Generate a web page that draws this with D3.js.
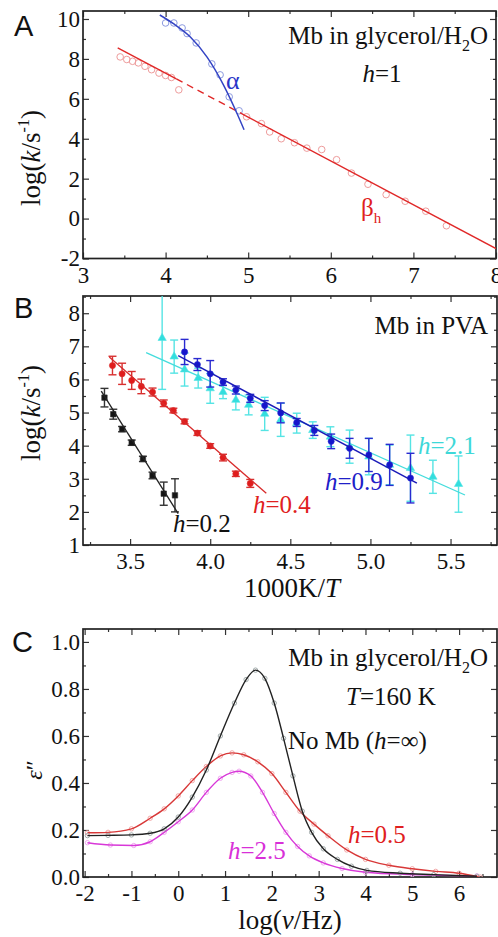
<!DOCTYPE html>
<html>
<head>
<meta charset="utf-8">
<script src="https://cdn.jsdelivr.net/npm/d3@7"></script>
<style>
  body { margin: 0; background: #fff; }
  svg { display: block; }
  text { font-family: "Liberation Serif", "Times New Roman", serif; fill: #111; }
</style>
</head>
<body>
<svg id="fig" width="498" height="937"></svg>
<script>
// ---- panel A : Mb in glycerol/H2O, h=1 ----
var alphaT = [4.0, 4.1, 4.2, 4.26, 4.37, 4.56, 4.66, 4.77, 4.89];
var alphaK = [9.8, 9.8, 9.55, 9.27, 8.8, 7.75, 7.2, 6.1, 5.4];
var alphaFitT = [3.93, 4.1, 4.3, 4.5, 4.7, 4.85, 4.95];
var alphaFitK = [10.2, 9.75, 9.1, 8.1, 6.7, 5.4, 4.45];
var betaT = [3.45, 3.53, 3.6, 3.67, 3.75, 3.83, 3.92, 4.0, 4.07, 4.16, 4.98, 5.16, 5.26, 5.4, 5.56, 5.71, 5.89, 6.07, 6.25, 6.45, 6.67, 6.9, 7.15, 7.4];
var betaK = [8.1, 7.97, 7.88, 7.8, 7.63, 7.46, 7.29, 7.17, 7.07, 6.45, 5.1, 4.76, 4.34, 4.0, 3.8, 3.53, 3.46, 2.95, 2.28, 1.72, 1.2, 0.87, 0.37, -0.36];
var betaFitT = [3.42, 4.13, 4.97, 8.0];
var betaFitK = [8.55, 7.0, 5.15, -1.5];
var ticksA_x = [3, 4, 5, 6, 7, 8];
var ticksA_y = [-2, 0, 2, 4, 6, 8, 10];

// ---- panel B : Mb in PVA ----
var h02T = [3.34, 3.395, 3.45, 3.51, 3.58, 3.64, 3.71, 3.78];
var h02K = [5.45, 4.95, 4.5, 4.09, 3.6, 3.1, 2.55, 2.5];
var h02E = [0.28, 0.15, 0.08, 0.08, 0.08, 0.1, 0.35, 0.5];
var h02FitT = [3.32, 3.8];
var h02FitK = [5.65, 1.95];

var h04T = [3.39, 3.45, 3.51, 3.57, 3.64, 3.71, 3.77, 3.84, 3.92, 4.0, 4.08, 4.16, 4.25];
var h04K = [6.42, 6.17, 5.97, 5.79, 5.62, 5.28, 5.06, 4.73, 4.38, 3.99, 3.64, 3.15, 2.86];
var h04E = [0.28, 0.32, 0.27, 0.22, 0.12, 0.1, 0.07, 0.07, 0.07, 0.07, 0.1, 0.08, 0.12];
var h04FitT = [3.37, 4.35];
var h04FitK = [6.68, 2.56];

var h09T = [3.84, 3.92, 4.0, 4.08, 4.16, 4.25, 4.34, 4.44, 4.54, 4.65, 4.755, 4.87, 4.99, 5.12, 5.25];
var h09K = [6.83, 6.45, 6.17, 5.92, 5.68, 5.43, 5.21, 4.99, 4.7, 4.46, 4.13, 3.92, 3.72, 3.42, 3.02];
var h09E = [0.38, 0.18, 0.4, 0.1, 0.12, 0.12, 0.15, 0.3, 0.12, 0.15, 0.22, 0.3, 0.5, 0.62, 0.75];
var h09FitT = [3.8, 5.29];
var h09FitK = [6.72, 2.87];

var h21T = [3.7, 3.775, 3.84, 3.925, 4.0, 4.08, 4.16, 4.24, 4.34, 4.44, 4.54, 4.64, 4.75, 4.87, 4.99, 5.12, 5.25, 5.39, 5.55];
var h21K = [7.25, 6.69, 6.3, 6.04, 5.73, 5.62, 5.38, 5.23, 4.96, 4.78, 4.68, 4.47, 4.27, 3.97, 3.67, 3.42, 3.32, 3.06, 2.84];
var h21E = [1.55, 0.5, 0.5, 0.3, 0.45, 0.2, 0.3, 0.3, 0.5, 0.5, 0.3, 0.25, 0.3, 0.5, 0.55, 0.6, 1.0, 0.5, 0.85];
var h21FitT = [3.6, 5.59];
var h21FitK = [6.81, 2.51];
var ticksB_x = [3.5, 4.0, 4.5, 5.0, 5.5];
var ticksB_y = [1, 2, 3, 4, 5, 6, 7, 8];

// ---- panel C : dielectric loss at T=160 K ----
var noMbNu = [-1.94, -1.5, -1.0, -0.6, -0.3, 0.0, 0.3, 0.6, 0.9, 1.2, 1.45, 1.65, 1.85, 2.05, 2.25, 2.45, 2.65, 2.85, 3.1, 3.4, 3.7, 4.03, 4.74, 5.46, 6.38];
var noMbEps = [0.176, 0.177, 0.179, 0.186, 0.205, 0.255, 0.34, 0.455, 0.6, 0.74, 0.84, 0.88, 0.845, 0.74, 0.59, 0.43, 0.28, 0.19, 0.12, 0.075, 0.046, 0.028, 0.016, 0.01, 0.003];
var h05Nu = [-1.94, -1.5, -1.0, -0.6, -0.3, 0.0, 0.3, 0.6, 0.9, 1.15, 1.4, 1.7, 2.0, 2.3, 2.6, 2.9, 3.2, 3.6, 4.0, 4.5, 5.0, 5.5, 6.0, 6.45];
var h05Eps = [0.188, 0.19, 0.205, 0.25, 0.29, 0.345, 0.41, 0.47, 0.515, 0.528, 0.52, 0.49, 0.44, 0.36, 0.28, 0.225, 0.175, 0.115, 0.075, 0.05, 0.035, 0.024, 0.016, 0.0];
var h25Nu = [-1.94, -1.45, -0.95, -0.6, -0.3, 0.0, 0.3, 0.6, 0.9, 1.15, 1.3, 1.55, 1.8, 2.05, 2.3, 2.55, 2.8, 3.1, 3.5, 4.0, 5.0, 6.38];
var h25Eps = [0.146, 0.136, 0.134, 0.15, 0.19, 0.235, 0.285, 0.36, 0.42, 0.445, 0.45, 0.43, 0.36, 0.27, 0.19, 0.13, 0.09, 0.06, 0.036, 0.02, 0.01, 0.005];
var ticksC_x = [-2, -1, 0, 1, 2, 3, 4, 5, 6];
var ticksC_y = [0, 0.2, 0.4, 0.6, 0.8, 1.0];

var SERIF = '"Liberation Serif", "Times New Roman", Times, serif';
var svg = d3.select('#fig');
var clipCount = 0;

function zip(a, b) {
  return a.map(function(d, i) { return [d, b[i]]; });
}

function minors(lo, hi, step) {
  return d3.range(Math.round((hi - lo) / step) + 1).map(function(i) { return +(lo + i * step).toFixed(4); });
}

// plain hyphen for negative tick labels, like the original
function fmt(spec) {
  var f = d3.format(spec);
  return function(v) { return f(v).replace('\u2212', '-'); };
}

// frame, inward ticks on all four sides, tick labels left & bottom
function makePanel(box, xDom, yDom, xMajor, xMinor, yMajor, yMinor, xFmt, yFmt) {
  var x = d3.scaleLinear().domain(xDom).range([box.l, box.r]);
  var y = d3.scaleLinear().domain(yDom).range([box.b, box.t]);
  var g = svg.append('g');
  var id = 'clip' + (clipCount++);
  svg.append('clipPath').attr('id', id).append('rect')
    .attr('x', box.l).attr('y', box.t)
    .attr('width', box.r - box.l).attr('height', box.b - box.t);

  function ax(gen, tr, vals, size, f) {
    var a = g.append('g').attr('transform', tr)
      .call(gen.tickValues(vals).tickSize(size).tickPadding(size < -4 ? 8 : 0).tickFormat(f || ''));
    a.attr('font-family', null).attr('font-size', null);
    a.select('.domain').remove();
    a.selectAll('line').attr('stroke', '#333').attr('stroke-width', 1.2);
    a.selectAll('text').style('font-family', SERIF).style('font-size', '23px').attr('fill', '#111');
    return a;
  }
  ax(d3.axisBottom(x), 'translate(0,' + box.b + ')', xMajor, -6, xFmt);
  ax(d3.axisBottom(x), 'translate(0,' + box.b + ')', xMinor, -3);
  ax(d3.axisTop(x), 'translate(0,' + box.t + ')', xMajor, -6);
  ax(d3.axisTop(x), 'translate(0,' + box.t + ')', xMinor, -3);
  var left = ax(d3.axisLeft(y), 'translate(' + box.l + ',0)', yMajor, -6, yFmt);
  left.selectAll('text').attr('x', -3);
  ax(d3.axisLeft(y), 'translate(' + box.l + ',0)', yMinor, -3);
  ax(d3.axisRight(y), 'translate(' + box.r + ',0)', yMajor, -6);
  ax(d3.axisRight(y), 'translate(' + box.r + ',0)', yMinor, -3);

  g.append('rect')
    .attr('x', box.l).attr('y', box.t)
    .attr('width', box.r - box.l).attr('height', box.b - box.t)
    .attr('fill', 'none').attr('stroke', '#222').attr('stroke-width', 1.7);

  var data = svg.append('g').attr('clip-path', 'url(#' + id + ')');
  return { x: x, y: y, g: data };
}

function panelLetter(txt, x, y) {
  svg.append('text').attr('x', x).attr('y', y)
    .style('font-family', '"Liberation Sans", Arial, sans-serif')
    .style('font-size', '29px').text(txt);
}

function addParts(t, parts) {
  parts.forEach(function(p) {
    var s = t.append('tspan').text(p[0]);
    if (p[1]) s.style('font-style', 'italic');
    if (p[2]) s.attr('dy', p[2]);
    if (p[3]) s.style('font-size', p[3] + 'px');
  });
}

function yTitle(x, y, parts, size) {
  var t = svg.append('text')
    .attr('transform', 'translate(' + x + ',' + y + ') rotate(-90)')
    .attr('text-anchor', 'middle')
    .style('font-family', SERIF).style('font-size', size + 'px');
  addParts(t, parts);
  return t;
}

function richText(x, y, parts, size, color, anchor) {
  var t = svg.append('text').attr('x', x).attr('y', y)
    .attr('text-anchor', anchor || 'start')
    .style('font-family', SERIF)
    .style('font-size', size + 'px').style('fill', color || '#111');
  addParts(t, parts);
  return t;
}

var line = d3.line();

// ================= A =================
var A = makePanel({ l: 83, r: 496, t: 11, b: 258.5 }, [3, 8], [-2, 10.4],
  ticksA_x, minors(3.5, 7.5, 1), ticksA_y, minors(-1, 9, 2), fmt('d'), fmt('d'));

A.g.selectAll('circle.beta').data(zip(betaT, betaK)).enter().append('circle')
  .attr('cx', function(d) { return A.x(d[0]); })
  .attr('cy', function(d) { return A.y(d[1]); })
  .attr('r', 3.3).attr('fill', 'none').attr('stroke', '#ee9c9c').attr('stroke-width', 1);
A.g.selectAll('circle.alpha').data(zip(alphaT, alphaK)).enter().append('circle')
  .attr('cx', function(d) { return A.x(d[0]); })
  .attr('cy', function(d) { return A.y(d[1]); })
  .attr('r', 3.3).attr('fill', 'none').attr('stroke', '#8c9ae0').attr('stroke-width', 1);

var betaFit = zip(betaFitT, betaFitK).map(function(d) { return [A.x(d[0]), A.y(d[1])]; });
A.g.append('path').attr('d', line(betaFit.slice(0, 2)))
  .attr('stroke', '#e02828').attr('stroke-width', 1.4).attr('fill', 'none');
A.g.append('path').attr('d', line(betaFit.slice(1, 3)))
  .attr('stroke', '#e02828').attr('stroke-width', 1.4).attr('fill', 'none')
  .attr('stroke-dasharray', '7,5');
A.g.append('path').attr('d', line(betaFit.slice(2, 4)))
  .attr('stroke', '#e02828').attr('stroke-width', 1.4).attr('fill', 'none');

A.g.append('path')
  .attr('d', d3.line().curve(d3.curveMonotoneX)
    .x(function(d) { return A.x(d[0]); }).y(function(d) { return A.y(d[1]); })(zip(alphaFitT, alphaFitK)))
  .attr('stroke', '#3444c4').attr('stroke-width', 1.5).attr('fill', 'none');

panelLetter('A', 14, 36);
yTitle(40, 158, [['log('], ['k', true], ['/s'], ['-1', false, -11, 16], [')', false, 11]], 27);
richText(488, 44, [['Mb in glycerol/H'], ['2', false, 7, 16], ['O', false, -7]], 25, '#111', 'end');
richText(382, 82, [['h', true], ['=1']], 25, '#111', 'middle');
richText(226, 89, [['α']], 26, '#2a36c8');
richText(361, 216, [['β'], ['h', false, 7, 15]], 25, '#e02020');

// ================= B =================
var B = makePanel({ l: 83, r: 497, t: 296, b: 545 }, [3.206, 5.79], [1, 8.52],
  ticksB_x, minors(3.25, 5.75, 0.5), ticksB_y, minors(1.5, 8.5, 1), fmt('.1f'), fmt('d'));

function errSeries(P, T, K, E, color, light, shape) {
  var pts = T.map(function(t, i) { return { t: t, k: K[i], e: E[i] }; });
  var g = P.g.append('g');
  var eb = g.selectAll('g.eb').data(pts).enter().append('g')
    .attr('stroke', light).attr('stroke-width', 1.4);
  eb.append('line')
    .attr('x1', function(d) { return P.x(d.t); }).attr('x2', function(d) { return P.x(d.t); })
    .attr('y1', function(d) { return P.y(d.k - d.e); }).attr('y2', function(d) { return P.y(d.k + d.e); });
  [-1, 1].forEach(function(s) {
    eb.append('line')
      .attr('x1', function(d) { return P.x(d.t) - 4; }).attr('x2', function(d) { return P.x(d.t) + 4; })
      .attr('y1', function(d) { return P.y(d.k + s * d.e); }).attr('y2', function(d) { return P.y(d.k + s * d.e); });
  });
  g.selectAll('path.m').data(pts).enter().append('path')
    .attr('transform', function(d) { return 'translate(' + P.x(d.t) + ',' + P.y(d.k) + ')'; })
    .attr('d', d3.symbol().type(shape).size(30))
    .attr('fill', color).attr('stroke', light).attr('stroke-width', 0.6);
}

function fitLine(P, T, K, color, w) {
  P.g.append('path').attr('d', line(zip(T, K).map(function(d) { return [P.x(d[0]), P.y(d[1])]; })))
    .attr('stroke', color).attr('stroke-width', w || 1.3).attr('fill', 'none');
}

errSeries(B, h21T, h21K, h21E, '#33dede', '#55e4e4', d3.symbolTriangle);
fitLine(B, h21FitT, h21FitK, '#44dcdc', 1.3);
errSeries(B, h09T, h09K, h09E, '#1515cc', '#2a2ad0', d3.symbolCircle);
fitLine(B, h09FitT, h09FitK, '#1a1ab8', 1.4);
errSeries(B, h04T, h04K, h04E, '#e01c1c', '#d83030', d3.symbolCircle);
fitLine(B, h04FitT, h04FitK, '#d82a2a', 1.3);
errSeries(B, h02T, h02K, h02E, '#151515', '#333', d3.symbolSquare);
fitLine(B, h02FitT, h02FitK, '#222', 1.3);

panelLetter('B', 14, 318);
yTitle(40, 413, [['log('], ['k', true], ['/s'], ['-1', false, -11, 16], [')', false, 11]], 27);
richText(292, 597, [['1000K/'], ['T', true]], 27, '#111', 'middle');
richText(488, 334, [['Mb in PVA']], 25, '#111', 'end');
richText(173, 532, [['h', true], ['=0.2']], 25, '#111');
richText(253, 513, [['h', true], ['=0.4']], 25, '#e02020');
richText(325, 490, [['h', true], ['=0.9']], 25, '#2020c8');
richText(418, 454, [['h', true], ['=2.1']], 25, '#3ed8d8');

// ================= C =================
var C = makePanel({ l: 83, r: 497, t: 629, b: 877 }, [-2.035, 6.81], [0, 1.055],
  ticksC_x, minors(-1.5, 6.5, 1), ticksC_y, minors(0.1, 0.9, 0.2), fmt('d'), fmt('.1f'));

function lossSeries(P, N, E, color, light) {
  var pts = zip(N, E);
  P.g.selectAll(null).data(pts).enter().append('circle')
    .attr('cx', function(d) { return P.x(d[0]); })
    .attr('cy', function(d) { return P.y(d[1]); })
    .attr('r', 2.2).attr('fill', 'none').attr('stroke', light).attr('stroke-width', 0.9);
  P.g.append('path')
    .attr('d', d3.line().curve(d3.curveMonotoneX)
      .x(function(d) { return P.x(d[0]); }).y(function(d) { return P.y(d[1]); })(pts))
    .attr('stroke', color).attr('stroke-width', 1.4).attr('fill', 'none');
}

lossSeries(C, h25Nu, h25Eps, '#d838d8', '#eea0ee');
lossSeries(C, h05Nu, h05Eps, '#d83838', '#f0a0a0');
lossSeries(C, noMbNu, noMbEps, '#222', '#9aa4a4');

panelLetter('C', 12, 652);
yTitle(42, 770, [['ε', true], ['\u2033']], 24);
richText(290, 929, [['log('], ['ν', true], ['/Hz)']], 27, '#111', 'middle');
richText(488, 666, [['Mb in glycerol/H'], ['2', false, 7, 16], ['O', false, -7]], 25, '#111', 'end');
richText(391, 705, [['T', true], ['=160 K']], 25, '#111', 'middle');
richText(288, 749, [['No Mb ('], ['h', true], ['=∞)']], 25, '#111');
richText(348, 843, [['h', true], ['=0.5']], 25, '#e02020');
richText(228, 859, [['h', true], ['=2.5']], 25, '#d830d8');
</script>
</body>
</html>
